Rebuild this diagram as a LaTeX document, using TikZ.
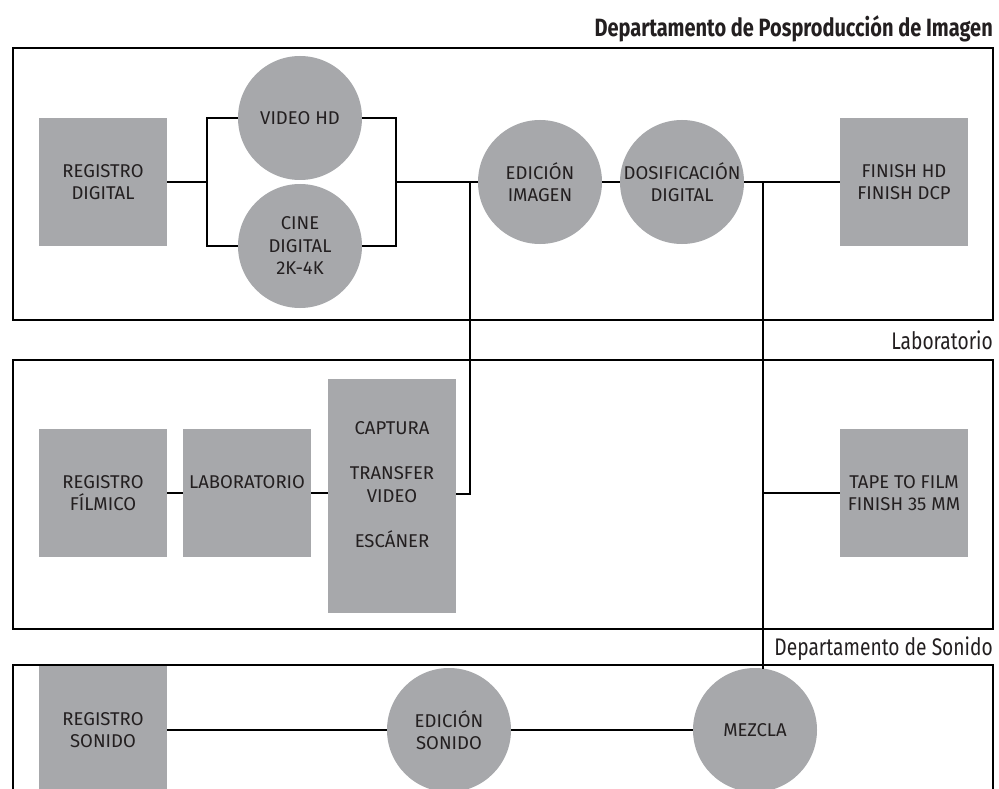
\documentclass[tikz,border=0pt]{standalone}
\usepackage{fontspec}
\setmainfont{Fira Sans}
\newfontfamily\headfont[FakeStretch=0.8]{Fira Sans}
\definecolor{boxgray}{RGB}{167,168,171}
\definecolor{ink}{RGB}{35,31,32}
\begin{document}
\begin{tikzpicture}[x=1pt,y=-1pt,
  every node/.style={text=ink},
  sq/.style={rectangle, fill=boxgray, minimum width=128, minimum height=128, inner sep=0, align=center, font=\fontsize{18.5}{22.5}\selectfont},
  rnd/.style={circle, fill=boxgray, minimum size=124, inner sep=0, align=center, font=\fontsize{18.5}{22.5}\selectfont},
  frame/.style={draw=black, line width=2.2},
  link/.style={draw=black, line width=2.2},
  head/.style={anchor=base east, inner sep=0, font=\headfont\fontsize{24}{24}\selectfont}]
\clip (0,0) rectangle (999,789);
\fill[white] (0,0) rectangle (999,789);
% frames
\path[frame] (13,48) rectangle (993,320);
\path[frame] (13,360) rectangle (993,629);
\path[frame] (13,665) rectangle (993,860);
% headers
\node[head, font=\headfont\bfseries\fontsize{25}{25}\selectfont] (t1) at (993,37) {Departamento de Posproducción de Imagen};
\node[head] (t2) at (993,349) {Laboratorio};
\node[head] (t3) at (993,655) {Departamento de Sonido};
% top section
\node[sq] (regd) at (103,182) {REGISTRO\\DIGITAL};
\node[rnd] (video) at (300,118) {VIDEO HD};
\node[rnd] (cine) at (300,246) {CINE\\DIGITAL\\2K-4K};
\node[rnd] (edim) at (540,182) {EDICIÓN\\IMAGEN};
\node[rnd] (dosi) at (682,182) {DOSIFICACIÓN\\DIGITAL};
\node[sq] (finhd) at (904,182) {FINISH HD\\FINISH DCP};
% lab section
\node[sq] (regf) at (103,493) {REGISTRO\\FÍLMICO};
\node[sq] (lab) at (247,493) {LABORATORIO\\\mbox{}};
\node[sq, minimum height=234] (capt) at (392,496) {CAPTURA\\\mbox{}\\TRANSFER\\VIDEO\\\mbox{}\\ESCÁNER\\\mbox{}};
\node[sq] (tape) at (904,493) {TAPE TO FILM\\FINISH 35 MM};
% sound section
\node[sq] (regs) at (103,730) {REGISTRO\\SONIDO};
\node[rnd] (eds) at (449,730) {EDICIÓN\\SONIDO};
\node[rnd] (mez) at (755,730) {MEZCLA};
% junctions
\coordinate (jl) at (207,182);
\coordinate (jr) at (396,182);
\coordinate (jv) at (470,182);
\coordinate (jc) at (470,494);
\coordinate (jd) at (763,182);
\coordinate (jm) at (763,669);
% connectors
\path[link] (regd.east) -- (jl);
\path[link] (video.west) -| (jl) |- (cine.west);
\path[link] (video.east) -| (jr) |- (cine.east);
\path[link] (jr) -- (edim.west);
\path[link] (edim.east) -- (dosi.west);
\path[link] (dosi.east) -- (finhd.west);
\path[link] (jv) -- (jc) -- (capt.east |- jc);
\path[link] (jd) -- (jm);
\path[link] (jd |- tape.west) -- (tape.west);
\path[link] (regf.east) -- (lab.west);
\path[link] (lab.east) -- (capt.west |- lab.east);
\path[link] (regs.east) -- (eds.west);
\path[link] (eds.east) -- (mez.west);
\end{tikzpicture}
\end{document}
